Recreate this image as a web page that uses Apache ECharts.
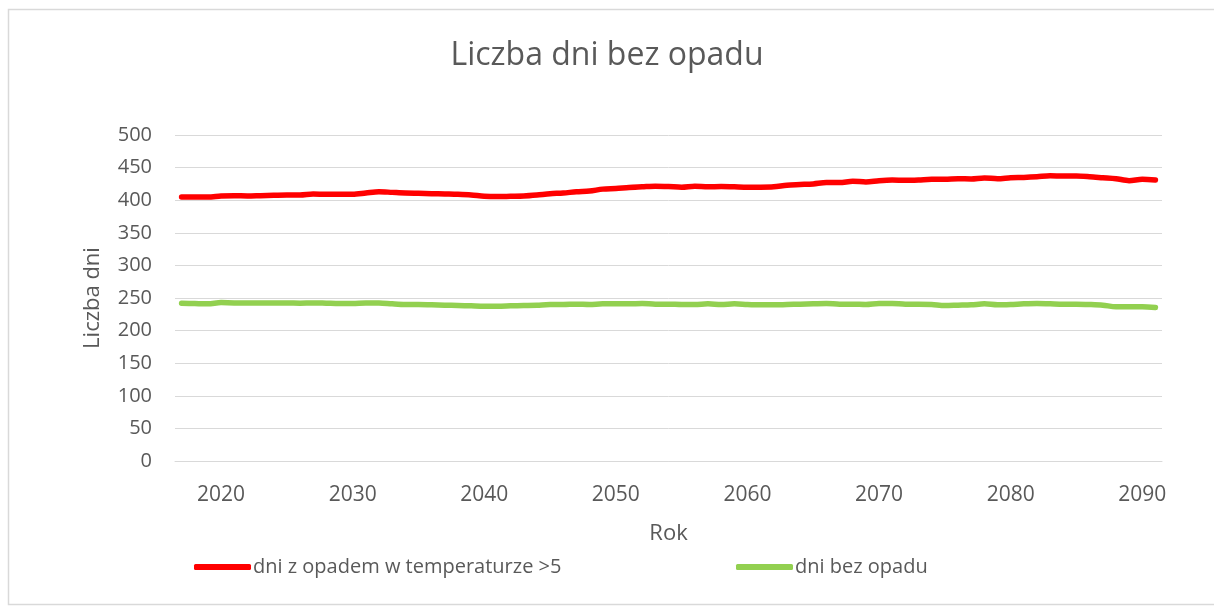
<!DOCTYPE html>
<html>
<head>
<meta charset="utf-8">
<script src="https://cdn.jsdelivr.net/npm/echarts@6/dist/echarts.min.js"></script>
<style>
html,body{margin:0;padding:0;background:#fff;overflow:hidden;}
#c{width:1214px;height:607px;}
</style>
</head>
<body>
<div id="c"></div>
<script>
var years = [];
for (var y = 2017; y <= 2091; y++) years.push(String(y));

var seriesNames = ['dni z opadem w temperaturze >5', 'dni bez opadu'];

var redValues = [
  405, 405, 405, 406.5, 407, 406.5, 407, 407.5, 408, 408,
  409.5, 409, 409, 409, 411, 413, 412, 411, 410.5, 410,
  409.5, 409, 408, 406, 405.5, 406, 406.5, 408, 410, 411,
  413, 414, 417, 418, 419.5, 420.5, 421.5, 421, 420, 421.5,
  420.5, 421, 420.5, 420, 420, 420.5, 423, 424, 425, 427,
  427, 429, 428, 430, 431, 430.5, 431, 432, 432, 433,
  432.5, 434, 433, 434.5, 435, 436, 437.5, 437, 437, 436,
  434.5, 433, 430, 432, 431
];

var greenValues = [
  242, 241.5, 241, 243, 242.5, 242.5, 242.5, 242.5, 242.5, 242,
  242.5, 242, 241.5, 241.5, 242.5, 242.5, 241, 240, 240, 239.5,
  239, 238.5, 238, 237.5, 237.5, 238, 238.5, 239, 240, 240,
  240.5, 240, 241, 241, 241, 241.5, 240.5, 240.5, 240, 240,
  241, 240, 241, 240, 239.5, 239.5, 240, 240.5, 241, 241.5,
  240.5, 240.5, 240, 241.5, 241.5, 240.5, 240.5, 240, 238.5, 239,
  239.5, 241, 239.5, 240, 241, 241.5, 241, 240.5, 240.5, 240,
  239, 236.5, 236.5, 236.5, 235.5
];

var yTicks = { min: 0, max: 500, interval: 50 };

var FONT = 'Open Sans';
var TXT = '#595959';
var GRIDC = '#d9d9d9';

var chart = echarts.init(document.getElementById('c'), null, { renderer: 'canvas' });
chart.setOption({
  animation: false,
  backgroundColor: '#ffffff',
  graphic: [{
    type: 'polyline',
    shape: { points: [[1214, 9.5], [8.5, 9.5], [8.5, 604.5], [1214, 604.5]] },
    style: { fill: 'none', stroke: GRIDC, lineWidth: 1.5 },
    silent: true
  }],
  title: {
    text: 'Liczba dni bez opadu',
    left: 'center',
    top: 35,
    textStyle: { fontFamily: FONT, fontSize: 32, fontWeight: 'normal', color: TXT }
  },
  legend: [{
    data: [seriesNames[0]],
    left: 189, top: 552,
    icon: 'roundRect',
    itemWidth: 57, itemHeight: 6, itemGap: 4,
    itemStyle: { color: '#ff0000' },
    textStyle: { fontFamily: FONT, fontSize: 20, color: TXT, padding: [0, 0, 0, -3] }
  }, {
    data: [seriesNames[1]],
    left: 731, top: 552,
    icon: 'roundRect',
    itemWidth: 57, itemHeight: 6, itemGap: 4,
    itemStyle: { color: '#92d050' },
    textStyle: { fontFamily: FONT, fontSize: 20, color: TXT, padding: [0, 0, 0, -3] }
  }],
  grid: { left: 175, right: 52, top: 135, bottom: 146, containLabel: false },
  xAxis: {
    type: 'category',
    data: years,
    boundaryGap: true,
    name: 'Rok',
    nameLocation: 'middle',
    nameGap: 62,
    nameTextStyle: { fontFamily: FONT, fontSize: 22, color: TXT },
    axisLine: { show: true, lineStyle: { color: GRIDC, width: 1 } },
    axisTick: { show: false },
    axisLabel: {
      interval: function (idx, val) { return Number(val) % 10 === 0; },
      fontFamily: FONT, fontSize: 21, color: TXT, margin: 24
    },
    splitLine: { show: false }
  },
  yAxis: {
    type: 'value',
    min: yTicks.min, max: yTicks.max, interval: yTicks.interval,
    name: 'Liczba dni',
    nameLocation: 'middle',
    nameGap: 71,
    nameRotate: 90,
    nameTextStyle: { fontFamily: FONT, fontSize: 22, color: TXT },
    axisLine: { show: false },
    axisTick: { show: false },
    axisLabel: { fontFamily: FONT, fontSize: 20, color: TXT, margin: 23 },
    splitLine: { show: true, lineStyle: { color: GRIDC, width: 1 } }
  },
  series: [{
    name: seriesNames[0],
    type: 'line',
    data: redValues,
    showSymbol: false,
    symbol: 'none',
    smooth: 0.3,
    lineStyle: { color: '#ff0000', width: 5.5, cap: 'round', join: 'round' },
    itemStyle: { color: '#ff0000' }
  }, {
    name: seriesNames[1],
    type: 'line',
    data: greenValues,
    showSymbol: false,
    symbol: 'none',
    smooth: 0.3,
    lineStyle: { color: '#92d050', width: 5.5, cap: 'round', join: 'round' },
    itemStyle: { color: '#92d050' }
  }]
});
</script>
</body>
</html>
